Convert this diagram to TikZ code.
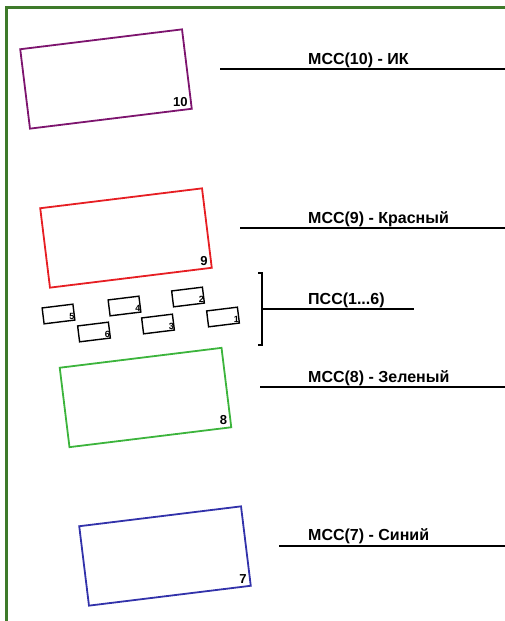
\documentclass[tikz,border=0pt]{standalone}
\usepackage{fontspec}
\setmainfont{Liberation Sans}
\definecolor{framegreen}{RGB}{62,122,42}
\definecolor{ikpurple}{RGB}{125,20,110}
\definecolor{redbox}{RGB}{230,30,35}
\definecolor{greenbox}{RGB}{60,180,60}
\definecolor{bluebox}{RGB}{50,50,170}
\tikzset{
  mss/.style={draw,line width=1.8pt,rotate=7,minimum width=163pt,minimum height=80pt,inner sep=0pt},
  pss/.style={draw,line width=1.4pt,rotate=7,minimum width=31pt,minimum height=16pt,inner sep=0pt},
  bignum/.style={font=\fontsize{13}{13}\selectfont\bfseries,inner sep=0pt,anchor=south east},
  smallnum/.style={font=\fontsize{9}{9}\selectfont\bfseries,inner sep=0pt,anchor=south east},
  lbl/.style={font=\fontsize{16}{16}\selectfont\bfseries,inner sep=0pt,anchor=base west},
  leader/.style={line width=1.5pt}
}
\begin{document}
\begin{tikzpicture}[x=1pt,y=-1pt]
\useasboundingbox (0,0) rectangle (505,621);
\draw [framegreen,line width=3pt] (6,621) -- (6,7) -- (505,7);
% big boxes
\node [mss,draw=ikpurple] (r10) at (106,79) {};
\node [mss,draw=redbox] (r9) at (126,238) {};
\node [mss,draw=greenbox] (r8) at (145.5,397.5) {};
\node [mss,draw=bluebox] (r7) at (165,556) {};
\node [bignum] (n10) at ([shift={(-5pt,3pt)}]r10.south east) {10};
\node [bignum] (n9) at ([shift={(-5pt,3pt)}]r9.south east) {9};
\node [bignum] (n8) at ([shift={(-5pt,3pt)}]r8.south east) {8};
\node [bignum] (n7) at ([shift={(-5pt,3pt)}]r7.south east) {7};
% small boxes
\node [pss] (p5) at (58.5,314) {};
\node [pss] (p4) at (124.5,306) {};
\node [pss] (p2) at (188,297) {};
\node [pss] (p6) at (94,332) {};
\node [pss] (p3) at (158,324) {};
\node [pss] (p1) at (223,317) {};
\node [smallnum] (m5) at ([shift={(-1pt,1pt)}]p5.south east) {5};
\node [smallnum] (m4) at ([shift={(-1pt,1pt)}]p4.south east) {4};
\node [smallnum] (m2) at ([shift={(-1pt,1pt)}]p2.south east) {2};
\node [smallnum] (m6) at ([shift={(-1pt,1pt)}]p6.south east) {6};
\node [smallnum] (m3) at ([shift={(-1pt,1pt)}]p3.south east) {3};
\node [smallnum] (m1) at ([shift={(-1pt,1pt)}]p1.south east) {1};
% leaders
\coordinate (l10a) at (220,69); \coordinate (l10b) at (505,69);
\coordinate (l9a) at (240,228); \coordinate (l9b) at (505,228);
\coordinate (l8a) at (260,387); \coordinate (l8b) at (505,387);
\coordinate (l7a) at (279,546); \coordinate (l7b) at (505,546);
\draw [leader] (l10a) -- (l10b);
\draw [leader] (l9a) -- (l9b);
\draw [leader] (l8a) -- (l8b);
\draw [leader] (l7a) -- (l7b);
\coordinate (bt) at (262,273); \coordinate (bb) at (262,345);
\coordinate (bm) at (262,309); \coordinate (be) at (414,309);
\draw [leader] ([xshift=-4pt]bt) -- (bt) -- (bb) -- ([xshift=-4pt]bb);
\draw [leader] (bm) -- (be);
% labels
\node [lbl] (t10) at (308,64) {МСС(10) - ИК};
\node [lbl] (t9) at (308,223) {МСС(9) - Красный};
\node [lbl] (tp) at (308,304) {ПСС(1...6)};
\node [lbl] (t8) at (308,382) {МСС(8) - Зеленый};
\node [lbl] (t7) at (308,540) {МСС(7) - Синий};
\end{tikzpicture}
\end{document}
